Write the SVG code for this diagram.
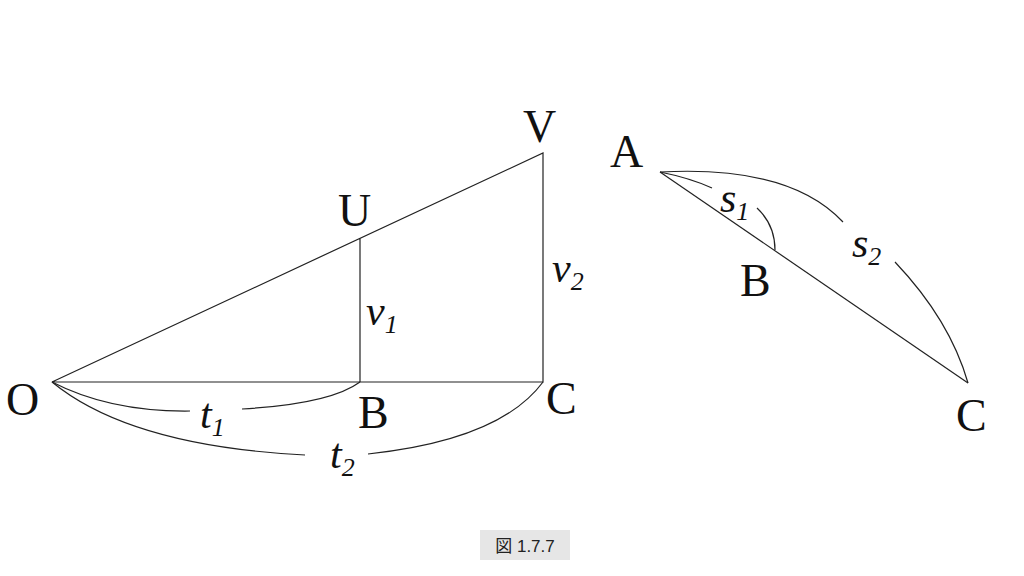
<svg xmlns="http://www.w3.org/2000/svg" width="1024" height="576" viewBox="0 0 1024 576">
<style>
.l{fill:none;stroke:#222;stroke-width:1.2}
.p{font-family:"Liberation Serif",serif;font-size:46px;fill:#111}
.v{font-family:"Liberation Serif",serif;font-size:42px;font-style:italic;fill:#111}
.s{font-size:26px}
</style>
<rect width="1024" height="576" fill="#fff"/>
<g id="connectors">
<path class="l" d="M52,382 L543,153 L543,382 Z M360,238 L360,382"/>
<path class="l" d="M52,382 Q110,412 190,411 M242,409 Q330,404 360,382"/>
<path class="l" d="M52,382 Q130,446 305,455 M368,454 Q500,440 543,382"/>
<path class="l" d="M660,172 L968,383"/>
<path class="l" d="M660,172 Q690,178 712,188 M757,208 Q775,225 775,250"/>
<path class="l" d="M660,172 Q790,165 843,222 M895,262 Q950,320 968,383"/>
</g>
<g id="O"><text class="p" x="6" y="415">O</text></g>
<g id="B"><text class="p" x="358" y="428">B</text></g>
<g id="C"><text class="p" x="546" y="414">C</text></g>
<g id="U"><text class="p" x="338" y="226">U</text></g>
<g id="V"><text class="p" x="523" y="142">V</text></g>
<g id="v1"><text class="v" x="366" y="325">v<tspan class="s" dy="8">1</tspan></text></g>
<g id="v2"><text class="v" x="552" y="282">v<tspan class="s" dy="8">2</tspan></text></g>
<g id="t1"><text class="v" x="200" y="428">t<tspan class="s" dy="8">1</tspan></text></g>
<g id="t2"><text class="v" x="330" y="468">t<tspan class="s" dy="8">2</tspan></text></g>
<g id="A2"><text class="p" x="610" y="167">A</text></g>
<g id="B2"><text class="p" x="740" y="296">B</text></g>
<g id="C2"><text class="p" x="956" y="431">C</text></g>
<g id="s1"><text class="v" x="720" y="212">s<tspan class="s" dy="8">1</tspan></text></g>
<g id="s2"><text class="v" x="852" y="257">s<tspan class="s" dy="8">2</tspan></text></g>
<g id="caption"><rect x="480" y="530" width="90" height="30" fill="#e6e6e6"/>
<text x="525" y="552" text-anchor="middle" style="font-family:'Liberation Sans','Noto Sans CJK JP',sans-serif;font-size:17px;fill:#222">図 1.7.7</text></g>
</svg>
